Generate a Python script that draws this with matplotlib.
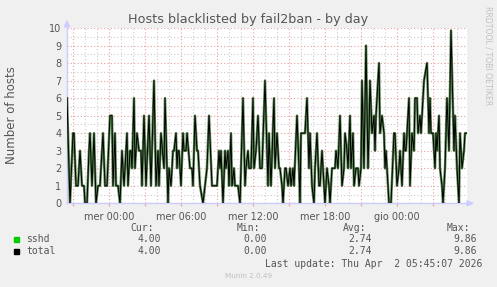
"""
Munin style day graph: hosts blacklisted by fail2ban.
"""

import matplotlib
matplotlib.use("Agg")
import matplotlib.pyplot as plt
import matplotlib.dates as mdates
import pandas as pd

# minutes since the start of the window (Tue 31 Mar 2026 20:30) and hosts blacklisted
minutes = [
    0, 15, 30, 35, 45, 55, 65, 75, 85, 90, 100, 110, 115, 125, 135, 145, 155, 165,
    170, 180, 190, 200, 215, 225, 230, 240, 245, 255, 265, 275, 285, 290, 300, 305,
    315, 320, 325, 335, 340, 350, 360, 370, 375, 385, 395, 410, 420, 435, 445, 455,
    460, 470, 485, 490, 505, 510, 520, 530, 535, 545, 550, 555, 560, 570, 580, 585,
    595, 600, 615, 625, 630, 640, 650, 655, 665, 680, 690, 700, 710, 725, 750, 760,
    765, 770, 780, 790, 795, 805, 810, 820, 825, 835, 840, 855, 865, 880, 890, 895,
    905, 910, 920, 930, 935, 945, 955, 965, 975, 990, 1005, 1010, 1020, 1035, 1040,
    1050, 1060, 1065, 1075, 1080, 1090, 1095, 1105, 1115, 1120, 1130, 1135, 1150,
    1160, 1165, 1170, 1190, 1195, 1200, 1210, 1215, 1225, 1235, 1240, 1250, 1260,
    1265, 1275, 1285, 1290, 1300, 1310, 1315, 1325, 1340, 1345, 1355, 1365, 1375,
    1385, 1390, 1400, 1405, 1415, 1420, 1430, 1435, 1445, 1455, 1460, 1470, 1475,
    1485, 1495, 1505, 1510, 1515, 1525, 1535, 1540, 1545, 1560, 1565, 1575, 1585,
    1590, 1595, 1605, 1610, 1620, 1635, 1640, 1650, 1660, 1665, 1675, 1685, 1690,
    1695, 1710, 1715, 1725, 1735, 1740, 1750, 1755, 1765, 1770, 1780, 1785, 1800,
    1810, 1815, 1820, 1830, 1840, 1845, 1850, 1860, 1865, 1875, 1880, 1890, 1900,
    1910, 1920, 1935, 1940, 1950, 1960, 1965, 1975, 1985, 1990, 2000,
]
hosts = [
    6, 0, 4, 4, 1, 1, 3, 1, 1, 0, 0, 3, 4, 1, 4, 0, 1, 1,
    2, 4, 1, 1, 5, 5, 1, 4, 1, 1, 0, 3, 1, 2, 4, 1,
    3, 3, 2, 6, 2, 4, 3, 3, 1, 5, 1, 5, 1, 7, 1, 3,
    1, 4, 2, 6, 0, 2, 1, 3, 3, 4, 2, 3, 3, 1, 4, 3,
    3, 4, 2, 2, 1, 5, 3, 3, 1, 0, 1, 2, 5, 1, 1, 3,
    2, 3, 0, 3, 2, 3, 1, 4, 1, 2, 1, 1, 0, 6, 1, 2,
    3, 2, 2, 6, 2, 3, 5, 2, 2, 7, 1, 4, 1, 6, 2,
    4, 2, 2, 1, 0, 2, 2, 1, 2, 1, 2, 1, 5,
    2, 0, 4, 4, 5, 6, 2, 4, 1, 0, 2, 4, 1,
    1, 3, 1, 0, 2, 1, 0, 2, 2, 3, 2, 5, 1,
    2, 4, 3, 2, 5, 2, 4, 1, 2, 2, 1, 2, 7,
    2, 9, 2, 4, 7, 4, 5, 3, 5, 8, 4, 5, 4,
    2, 3, 1, 0, 0, 4, 4, 1, 2, 3, 1, 4, 3,
    3, 6, 1, 4, 3, 6, 6, 4, 5, 4, 6, 7, 8,
    4, 6, 4, 4, 2, 4, 3, 5, 2, 1, 0, 2, 6,
    3, 9.86, 3, 5, 2, 0, 4, 2, 3, 4, 4,
]

series = ["sshd", "total"]
series_colors = ["#00cc00", "#000000"]
cur = ["4.00", "4.00"]
vmin = ["0.00", "0.00"]
avg = ["2.74", "2.74"]
vmax = ["9.86", "9.86"]
day_names = {0: "lun", 1: "mar", 2: "mer", 3: "gio", 4: "ven", 5: "sab", 6: "dom"}

start = pd.Timestamp("2026-03-31 20:30")
times = start + pd.to_timedelta(minutes, unit="m")
end = start + pd.Timedelta(minutes=2000)

W, H = 497, 287
fig = plt.figure(figsize=(W / 100, H / 100), dpi=100, facecolor="#f0f0f0")
ax = fig.add_axes([67 / W, (H - 203.3) / H, 400 / W, 175.3 / H], facecolor="white")

ax.plot(times, hosts, color="#3a6e33", lw=1.8, alpha=0.85, zorder=3)
ax.plot(times, hosts, color="black", lw=0.7, zorder=4)

ax.set_xlim(start, end)
ax.set_ylim(0, 10)

# grid: red dotted majors, grey dotted minors
ax.xaxis.set_major_locator(mdates.HourLocator(byhour=range(0, 24, 3)))
ax.xaxis.set_minor_locator(mdates.HourLocator())
ax.yaxis.set_major_locator(plt.MultipleLocator(1))
ax.yaxis.set_minor_locator(plt.MultipleLocator(0.5))
ax.grid(which="major", color="#e8a0a0", ls=(0, (1, 2)), lw=0.8, zorder=1)
ax.grid(which="minor", color="#cccccc", ls=(0, (1, 2)), lw=0.8, zorder=1)


def fmt(x, pos):
    d = mdates.num2date(x)
    if d.hour % 6 != 0:
        return ""
    return f"{day_names[d.weekday()]} {d:%H:%M}"


ax.xaxis.set_major_formatter(plt.FuncFormatter(fmt))
ax.tick_params(which="both", length=0, labelsize=7, labelcolor="#555555", pad=4)
ax.tick_params(axis="x", which="major", length=2, color="#e8a0a0", direction="out")

for s in ["top", "right"]:
    ax.spines[s].set_visible(False)
for s in ["left", "bottom"]:
    ax.spines[s].set_color("#ccccff")
    ax.spines[s].set_linewidth(1)

# axis arrows
fig.patches.append(plt.Polygon([[64.5 / W, (H - 27) / H], [69.5 / W, (H - 27) / H], [67 / W, (H - 21) / H]],
                               closed=True, transform=fig.transFigure, color="#ccccff"))
fig.patches.append(plt.Polygon([[467 / W, (H - 200.8) / H], [467 / W, (H - 205.8) / H], [473 / W, (H - 203.3) / H]],
                               closed=True, transform=fig.transFigure, color="#ccccff"))

fig.text(248 / W, 1 - 19 / H, "Hosts blacklisted by fail2ban - by day", ha="center", va="center",
         fontsize=9.2, color="#555555")
fig.text(12 / W, 1 - 115 / H, "Number of hosts", rotation=90, ha="center", va="center",
         fontsize=8.5, color="#555555")
fig.text(488 / W, 1 - 56 / H, "RRDTOOL / TOBI OETIKER", rotation=270, ha="center", va="center",
         fontsize=5.6, color="#c0c0c0")

# legend block
mono = dict(family="DejaVu Sans Mono", fontsize=7, color="#555555", va="center")
for label, right in zip(["Cur:", "Min:", "Avg:", "Max:"], [154, 260, 366, 470]):
    fig.text(right / W, 1 - 228 / H, label, ha="right", **mono)
for i, name in enumerate(series):
    y = 1 - (239.5 + 11.7 * i) / H
    fig.patches.append(plt.Rectangle((14 / W, y - 2.5 / H), 5 / W, 5 / H,
                                     transform=fig.transFigure, color=series_colors[i]))
    fig.text(26 / W, y, name, ha="left", **mono)
    for val, right in zip([cur[i], vmin[i], avg[i], vmax[i]], [161, 267, 372, 477]):
        fig.text(right / W, y, val, ha="right", **mono)
fig.text(482 / W, 1 - 263.7 / H, "Last update: Thu Apr  2 05:45:07 2026", ha="right", **mono)
fig.text(249 / W, 1 - 276 / H, "Munin 2.0.49", ha="center", va="center", fontsize=5.2, color="#c0c0c0")

fig.savefig("out.png", dpi=100, facecolor=fig.get_facecolor())
